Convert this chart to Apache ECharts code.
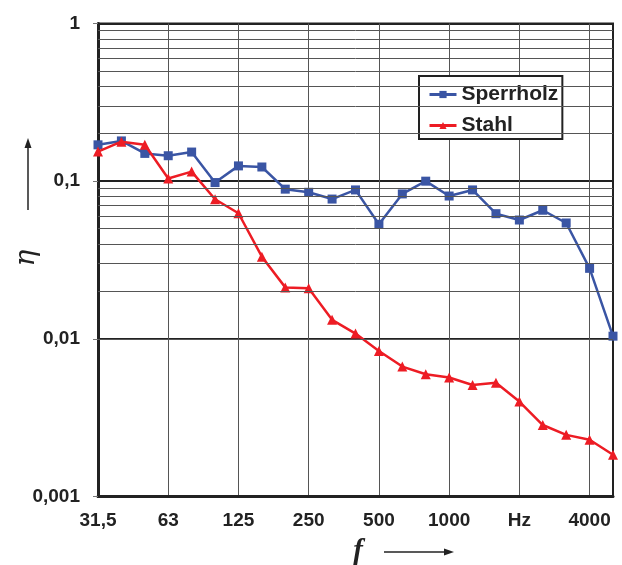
<!DOCTYPE html>
<html><head><meta charset="utf-8">
<script src="https://cdn.jsdelivr.net/npm/echarts@6/dist/echarts.min.js"></script>
<style>html,body{margin:0;padding:0;background:#fff}#c{width:622px;height:565px}</style>
</head><body><div id="c"></div>
<script>
const bands = ['31.5','40','50','63','80','100','125','160','200','250','315','400','500','630','800','1000','1250','1600','2000','2500','3150','4000','5000'];
const xTickLabels = ['31,5','','','63','','','125','','','250','','','500','','','1000','','','Hz','','','4000',''];
const sperrholz = [0.170,0.180,0.150,0.145,0.153,0.098,0.125,0.123,0.089,0.085,0.077,0.088,0.0533,0.083,0.100,0.0805,0.088,0.0622,0.0567,0.0654,0.0543,0.028,0.0104];
const stahl = [0.154,0.178,0.170,0.104,0.115,0.0768,0.0626,0.0332,0.0212,0.0209,0.0132,0.0108,0.00838,0.00667,0.00596,0.00568,0.0051,0.00527,0.0040,0.00284,0.00246,0.00229,0.00184];
const yTickLabels = ['0,001','0,01','0,1','1'];
const minorGrid = [0.002,0.003,0.004,0.005,0.006,0.007,0.008,0.009,0.02,0.03,0.04,0.05,0.06,0.07,0.08,0.09,0.2,0.3,0.4,0.5,0.6,0.7,0.8,0.9];

const BLUE = '#3A55A4', RED = '#ED1C24', INK = '#222';
const chart = echarts.init(document.getElementById('c'));
const L = 98, R = 613, T = 23.5, B = 496.5;
chart.setOption({
  animation: false,
  grid: {left: L, right: 622 - R, top: T, bottom: 565 - B, show: true, borderColor: INK, borderWidth: 2},
  legend: {
    data: ['Sperrholz', 'Stahl'], orient: 'vertical', left: 419, top: 76,
    backgroundColor: '#fff', borderColor: INK, borderWidth: 2, padding: [8, 4, 3, 9],
    itemWidth: 27, itemHeight: 9, itemGap: 10,
    lineStyle: {width: 3},
    textStyle: {fontFamily: 'Liberation Sans', fontWeight: 'bold', fontSize: 21, color: INK}
  },
  xAxis: {
    type: 'category', data: bands, boundaryGap: false,
    axisLine: {lineStyle: {color: INK, width: 3}},
    axisTick: {show: false},
    axisLabel: {interval: 0, margin: 15, fontFamily: 'Liberation Sans', fontWeight: 'bold', fontSize: 19, color: INK,
      formatter: (v, i) => xTickLabels[i]},
    splitLine: {show: true, interval: (i) => i % 3 === 0, lineStyle: {color: '#555', width: 1}}
  },
  yAxis: {
    type: 'log', logBase: 10, min: 0.001, max: 1,
    axisLine: {show: true, lineStyle: {color: INK, width: 3}},
    axisTick: {show: true, length: 5, lineStyle: {color: '#777', width: 1}},
    axisLabel: {margin: 18, fontFamily: 'Liberation Sans', fontWeight: 'bold', fontSize: 19, color: INK,
      formatter: v => yTickLabels[Math.round(Math.log10(v)) + 3]},
    splitLine: {show: true, lineStyle: {color: INK, width: 2}}
  },
  series: [
    {name: 'grid', type: 'line', data: [], z: 1, silent: true,
      markLine: {silent: true, symbol: 'none', label: {show: false}, animation: false,
        lineStyle: {color: '#555', width: 1, type: 'solid'},
        data: minorGrid.map(v => ({yAxis: v}))}},
    {name: 'Sperrholz', type: 'line', data: sperrholz, z: 3, symbol: 'rect', symbolSize: 9,
      itemStyle: {color: BLUE}, lineStyle: {color: BLUE, width: 2.5}},
    {name: 'Stahl', type: 'line', data: stahl, z: 4, symbol: 'triangle', symbolSize: 10,
      itemStyle: {color: RED}, lineStyle: {color: RED, width: 2.5}}
  ],
  graphic: [
    {type: 'line', shape: {x1: 28, y1: 210, x2: 28, y2: 146}, style: {stroke: INK, lineWidth: 1.5}},
    {type: 'polygon', shape: {points: [[28, 138], [24.5, 148], [31.5, 148]]}, style: {fill: INK}},
    {type: 'text', x: 27, y: 258, rotation: Math.PI / 2,
      style: {text: 'η', font: 'italic 28px "DejaVu Serif"', fill: INK, align: 'center', verticalAlign: 'middle'}},
    {type: 'line', shape: {x1: 384, y1: 552, x2: 445, y2: 552}, style: {stroke: INK, lineWidth: 1.5}},
    {type: 'polygon', shape: {points: [[454, 552], [444, 548.5], [444, 555.5]]}, style: {fill: INK}},
    {type: 'text', x: 358, y: 552,
      style: {text: 'f', font: 'italic bold 29px "Liberation Serif"', fill: INK, align: 'center', verticalAlign: 'middle'}}
  ]
});
</script></body></html>
